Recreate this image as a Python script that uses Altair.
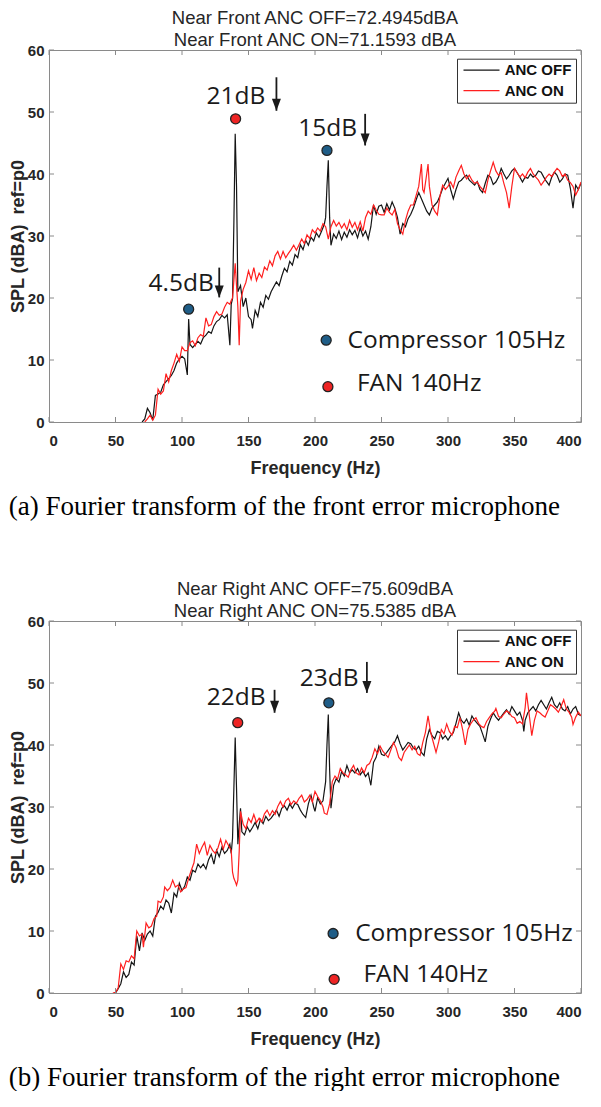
import altair as alt
import pandas as pd

# ---------------- data ----------------
XTICKS = [0, 50, 100, 150, 200, 250, 300, 350, 400]
YTICKS = [0, 10, 20, 30, 40, 50, 60]
SERIES = ["ANC OFF", "ANC ON"]
SERIES_COLORS = ["#151515", "#ff1f1f"]

# Panel (a) - front error microphone
a_off_f = [70, 72, 74, 76, 78, 80, 82, 84, 86, 88,
           90, 92, 94, 96, 98, 100, 102, 104, 105, 106,
           108, 110, 112, 114, 116, 118, 120, 122, 124, 126,
           128, 130, 132, 134, 136, 137, 138, 139, 140, 141,
           142, 144, 146, 148, 150, 152, 153, 155, 157, 159,
           161, 163, 165, 167, 169, 171, 173, 175, 177, 179,
           181, 183, 185, 187, 189, 191, 193, 195, 197, 199,
           201, 203, 205, 207, 208, 209, 210, 211, 212, 214,
           216, 218, 220, 222, 224, 226, 228, 230, 232, 234,
           236, 238, 240, 242, 244, 246, 248, 250, 252, 254,
           256, 258, 260, 262, 264, 266, 268, 270, 272, 274,
           276, 278, 280, 282, 284, 286, 288, 290, 292, 294,
           296, 298, 300, 302, 304, 306, 308, 310, 312, 314,
           316, 318, 320, 322, 324, 326, 328, 330, 332, 334,
           336, 338, 340, 342, 344, 346, 348, 350, 352, 354,
           356, 358, 360, 362, 364, 366, 368, 370, 372, 374,
           376, 378, 380, 382, 384, 386, 388, 390, 392, 394,
           396, 398, 400]
a_off_v = [0, 0.5, 2.2, 1.5, 0.3, 4.3, 4.5, 4.8, 6, 6.5,
           7, 7.5, 8.3, 9.5, 10.2, 10.6, 10.2, 7.6, 16.6, 12.5,
           12, 12.5, 13, 12.6, 13.6, 14, 14.6, 14.3, 15.5, 16.2,
           16.5, 17.2, 16.8, 17.3, 12.4, 19, 19.9, 32, 46.5, 38,
           21, 22, 18.6, 20, 17, 16.5, 15.1, 18, 17, 19.3,
           18.5, 20.4, 19.8, 21, 21.8, 22.6, 22, 23.5, 24.8, 24.2,
           25.9, 25.3, 27, 26.5, 28.6, 27.8, 29.3, 28.5, 29.8, 29.2,
           30.5, 29.8, 30.8, 31.9, 33, 38, 42.2, 33, 28.5, 30.3,
           29.6, 30.8, 29.4, 30.6, 29.8, 31, 30.2, 30.9, 29.7, 31.3,
           30, 30.8, 29.5, 31.5, 35, 33.5, 34.8, 35, 33.8, 35.2,
           34.2, 35.5, 34.5, 33, 30.3, 32, 31.5, 32.8, 33.5, 34.5,
           35.8, 37, 36, 35, 34, 33.4, 34.5, 35, 35.5, 36.5,
           37.7, 38.5, 39.3, 37.5, 36, 37.5, 38.7, 39, 39.5, 39.8,
           39, 38.6, 38.2, 38.8, 37.5, 37, 38.5, 39.8, 39.5, 38.3,
           38.7, 39.5, 40.9, 40, 39.2, 39.8, 40.5, 40.9, 40.2, 39.5,
           38.7, 39.5, 39.3, 40, 39.5, 39.8, 40.5, 40.3, 39.5, 38.8,
           38.2, 39.5, 40.3, 39.8, 38.7, 39.2, 40, 39.8, 37.7, 34.5,
           38.2, 37.5, 38.5]
a_on_f = [72, 74, 76, 78, 80, 82, 84, 86, 88, 90,
          92, 94, 96, 98, 100, 102, 104, 106, 108, 110,
          112, 114, 116, 118, 120, 122, 124, 126, 128, 130,
          132, 134, 136, 137, 138, 139, 140, 141, 142, 143,
          144, 146, 148, 150, 152, 154, 156, 158, 160, 162,
          164, 166, 168, 170, 172, 174, 176, 178, 180, 182,
          184, 186, 188, 190, 192, 194, 196, 198, 200, 202,
          204, 206, 208, 210, 212, 214, 216, 218, 220, 222,
          224, 226, 228, 230, 232, 234, 236, 238, 240, 242,
          244, 246, 248, 250, 252, 254, 256, 258, 260, 262,
          264, 266, 268, 270, 272, 274, 276, 278, 280, 281,
          282, 284, 285, 286, 288, 290, 292, 294, 296, 298,
          300, 302, 304, 306, 308, 310, 312, 314, 316, 318,
          320, 322, 324, 326, 328, 330, 332, 334, 336, 338,
          340, 342, 344, 346, 348, 350, 352, 354, 356, 358,
          360, 362, 364, 366, 368, 370, 372, 374, 376, 378,
          380, 382, 384, 386, 388, 390, 392, 394, 396, 398,
          400]
a_on_v = [0, 0.5, 1.1, 0.3, 1.1, 5.3, 4.5, 5, 7.8, 6.5,
          8.3, 9.5, 10.9, 9.8, 12.1, 11.5, 11.5, 12.8, 13.1, 12.3,
          13.6, 14.1, 13.8, 16.8, 15.5, 15.7, 17, 17.8, 17.2, 17.4,
          18.5, 19.3, 19, 19.6, 20, 22.8, 25.6, 22, 18.6, 12.4,
          19.5, 21.4, 22.5, 24.4, 23, 24.9, 22.8, 24, 23.3, 25,
          24.5, 26, 25.2, 26.8, 27.5, 26.3, 27.5, 26.5, 27.2, 27.8,
          28.5, 27.7, 28.6, 29.5, 28.8, 30.2, 29.6, 31, 30.5, 31.3,
          30.8, 32, 31.5, 29.5, 31.5, 32.5, 31.6, 32.2, 31.3, 32,
          31, 32.5, 31.4, 32.2, 31, 32.3, 30.8, 33, 34, 33.5,
          35, 34.2, 33.5, 33.4, 33.4, 34.5, 33.8, 33.4, 34.3, 32,
          31, 30.3, 32.5, 34, 35, 35, 36.5, 38, 41.6, 37.5,
          37, 40, 41.6, 38, 35, 34, 33.4, 36.5, 38.2, 37.5,
          38, 38.7, 37.8, 39.5, 40.5, 41.4, 40, 39.2, 39.8, 39,
          38.5, 38.7, 38, 37.5, 37, 39, 40.5, 41.9, 40.5, 39.8,
          40.2, 38.5, 37, 34.5, 38, 40.9, 40.2, 39.5, 40, 39.4,
          40.3, 40.9, 40, 39.5, 39, 38.2, 38.8, 39.5, 40, 39.6,
          40.3, 40.9, 40.5, 39.6, 40, 39, 38.6, 38, 36.6, 37.5,
          38.7]

# Panel (b) - right error microphone
b_off_f = [50, 52, 54, 56, 58, 60, 62, 64, 66, 68,
           70, 72, 74, 76, 78, 80, 82, 84, 86, 88,
           90, 92, 94, 96, 98, 100, 102, 104, 106, 108,
           110, 112, 114, 116, 118, 120, 122, 124, 126, 128,
           130, 132, 134, 136, 137, 138, 139, 140, 141, 142,
           143, 144, 145, 147, 149, 151, 153, 155, 157, 159,
           161, 163, 165, 167, 169, 171, 173, 175, 177, 179,
           181, 183, 185, 187, 189, 191, 193, 195, 197, 199,
           200, 202, 204, 206, 208, 209, 210, 211, 212, 214,
           216, 218, 220, 222, 224, 226, 228, 230, 232, 234,
           236, 238, 240, 242, 244, 246, 248, 250, 252, 254,
           256, 258, 260, 262, 264, 266, 268, 270, 272, 274,
           276, 278, 280, 282, 284, 286, 288, 290, 292, 294,
           296, 298, 300, 302, 304, 306, 308, 310, 312, 314,
           316, 318, 320, 322, 324, 326, 328, 330, 332, 334,
           336, 338, 340, 342, 344, 346, 348, 350, 352, 354,
           356, 357, 358, 360, 362, 364, 366, 368, 370, 372,
           374, 376, 378, 380, 382, 384, 386, 388, 390, 392,
           394, 396, 398, 400]
b_off_v = [0, 0.7, 1.5, 3.4, 2.5, 3, 5, 4.5, 9.2, 6.8,
           9.7, 8.5, 9.5, 10, 9.2, 12.4, 13, 14, 13.5, 15,
           14.5, 12.9, 16.1, 15.5, 17.7, 16.5, 17.2, 18.7, 18.2, 19.8,
           19.5, 20.8, 20.2, 20.8, 20, 21.5, 22.4, 20.8, 23, 22,
           23.5, 22.5, 23, 24, 22.5, 25, 33, 41.2, 33, 24,
           27.2, 29.8, 26, 25.5, 26.8, 26, 26.7, 27.5, 26.5, 28,
           27.3, 28.5, 27.8, 28.2, 28.8, 29.5, 28.5, 29.8, 30.2, 29.5,
           30.5, 29.8, 30.6, 30.4, 29.5, 28.8, 28.3, 30.5, 31.9, 30,
           29.3, 31.5, 30.5, 31, 34.1, 40, 44.9, 36, 29.8, 33.5,
           34.6, 34, 35.7, 35, 36.7, 35.5, 36, 35.5, 36.2, 35.2,
           35.8, 34.9, 35.5, 33.5, 37.2, 38, 39.8, 38.5, 38.3, 38.8,
           39.4, 40, 40.5, 41.5, 40.2, 39.2, 39.8, 40.4, 40.2, 39.5,
           39.2, 39.8, 38.8, 38.3, 41, 42.5, 41.5, 41, 42.2, 42,
           41, 41.5, 40.8, 41.5, 42, 43.5, 45.2, 44, 43.5, 44.2,
           43.2, 44.7, 44, 43.5, 43, 41.8, 40.5, 43, 44.2, 45.2,
           44.5, 44, 44.6, 45.2, 45.7, 45, 46.2, 45.5, 44.8, 45.3,
           44, 42.2, 44, 45.2, 45.7, 46.2, 45.5, 46.5, 47.2, 46.5,
           45.8, 46.8, 47.7, 46.5, 46, 46.8, 45.8, 45.5, 46.2, 45,
           45.8, 46.2, 45, 44.7]
b_on_f = [48, 50, 52, 54, 56, 58, 60, 62, 64, 66,
          68, 70, 71, 73, 75, 77, 79, 81, 82, 84,
          86, 87, 89, 91, 93, 95, 97, 99, 101, 103,
          105, 107, 109, 111, 113, 115, 117, 119, 121, 123,
          125, 127, 129, 131, 133, 135, 137, 138, 139, 140,
          141, 142, 143, 144, 146, 148, 150, 152, 154, 156,
          158, 160, 162, 164, 166, 168, 170, 172, 174, 176,
          178, 180, 182, 184, 186, 188, 190, 192, 194, 196,
          198, 200, 202, 204, 206, 207, 209, 211, 213, 215,
          217, 219, 221, 223, 225, 227, 229, 231, 233, 235,
          237, 239, 241, 243, 245, 247, 249, 251, 253, 255,
          257, 259, 261, 263, 265, 267, 269, 271, 273, 275,
          277, 279, 281, 283, 285, 287, 289, 291, 293, 295,
          297, 299, 301, 303, 305, 307, 309, 311, 313, 315,
          317, 319, 321, 323, 325, 327, 329, 331, 333, 335,
          336, 338, 340, 342, 344, 346, 348, 350, 352, 354,
          356, 358, 359, 361, 363, 365, 367, 369, 371, 373,
          375, 377, 379, 381, 383, 385, 387, 389, 391, 393,
          394, 396, 398, 400]
b_on_v = [0, 0.1, 0.8, 4.7, 3.8, 5.2, 5, 6, 5.5, 10,
          9.2, 9.5, 7.4, 11.3, 10.5, 10.8, 12, 12.4, 14.8, 14.6,
          15.5, 17.1, 16.5, 17, 18.2, 17.1, 17.4, 16.3, 16.8, 17,
          18.5, 19.8, 21, 24, 22.5, 23.5, 24.3, 22.2, 23.8, 23,
          22.5, 23.4, 24.8, 23.2, 24.6, 23.8, 23, 19.5, 18.5, 18,
          17.4, 18.2, 22.8, 29.3, 27.2, 26.5, 28.2, 27.5, 28.8, 27.5,
          28.2, 27.6, 28.9, 29.5, 28.6, 29.4, 28.8, 30.1, 30.9, 30,
          31, 31.4, 30.4, 31, 30.6, 31.4, 31.9, 30.8, 31.2, 31.9,
          30.8, 32.5, 31.7, 31, 30, 29, 28.8, 30.5, 34.1, 35,
          34.5, 36.2, 35.5, 35.2, 34.8, 36, 36.7, 35.5, 35.2, 36.3,
          35.5, 36.7, 37, 38, 39.4, 38.6, 39.8, 39, 38.5, 38,
          39.2, 40.4, 39.5, 38, 37.5, 38.8, 39.4, 40, 39.2, 39.8,
          38.6, 38.3, 40.4, 42, 44.7, 42, 40.4, 38.8, 40.5, 42.5,
          41.8, 43.4, 42.2, 41.6, 43, 42.8, 44.4, 42.5, 40, 42.5,
          43.4, 44, 44.4, 43.5, 43, 42.8, 43.8, 44.4, 45, 45.4,
          45.9, 44.6, 44.4, 45, 45.5, 45.2, 44.6, 44.4, 43.5, 43.8,
          43.4, 46, 48.4, 45, 41.5, 44, 45.5, 45.2, 44.8, 44.5,
          45.5, 46.5, 46.2, 45.8, 45.3, 46.2, 47.3, 45.8, 45.3, 44.5,
          43.3, 44.5, 45.3, 44.7]

# annotations: peak labels (text centre), arrows, marker dots, key texts
a_lab_text = ["4.5dB", "21dB", "15dB"]
a_lab_f = [99.4, 140.5, 209.6]
a_lab_v = [22.2, 52.4, 47.3]
a_arr_f = [128, 171, 237.7]
a_arr_top = [24.9, 55.6, 49.7]
a_arr_tip = [20.1, 50.2, 44.6]
a_dot_f = [105, 140.3, 209, 208.4, 209.7]
a_dot_v = [18.2, 48.9, 43.8, 13.2, 5.7]
a_dot_c = ["#1f5d87", "#ee2424", "#1f5d87", "#1f5d87", "#ee2424"]
a_key_text = ["Compressor 105Hz", "FAN 140Hz"]
a_key_f = [224.5, 231.5]
a_key_v = [13.0, 6.1]

b_lab_text = ["22dB", "23dB"]
b_lab_f = [140.7, 210.6]
b_lab_v = [47.6, 50.7]
b_arr_f = [169.6, 239]
b_arr_top = [48.9, 53.4]
b_arr_tip = [45.2, 48.4]
b_dot_f = [141.9, 210.4, 213.6, 214.4]
b_dot_v = [43.6, 46.8, 9.6, 2.2]
b_dot_c = ["#ee2424", "#1f5d87", "#1f5d87", "#ee2424"]
b_key_text = ["Compressor 105Hz", "FAN 140Hz"]
b_key_f = [230.2, 236.4]
b_key_v = [9.5, 2.9]

TITLE_A = ["Near Front ANC OFF=72.4945dBA", "Near Front ANC ON=71.1593 dBA"]
TITLE_B = ["Near Right ANC OFF=75.609dBA", "Near Right ANC ON=75.5385 dBA"]
CAP_A = "(a) Fourier transform of the front error microphone"
CAP_B = "(b) Fourier transform of the right error microphone"

# ---------------- chart ----------------
W, H = 532, 372
FRAME = "#8a8a8a"
INK = "#1a1a1a"


def panel(off_f, off_v, on_f, on_v, lab, arr, dots, keys, title_lines):
    lines_df = pd.DataFrame(
        [{"f": f, "v": v, "s": SERIES[0]} for f, v in zip(off_f, off_v)]
        + [{"f": f, "v": v, "s": SERIES[1]} for f, v in zip(on_f, on_v)]
    )
    x = alt.X("f:Q", scale=alt.Scale(domain=[0, 400], nice=False, zero=False),
              axis=alt.Axis(values=XTICKS, title="Frequency (Hz)", format="d"))
    y = alt.Y("v:Q", scale=alt.Scale(domain=[0, 60], nice=False, zero=False),
              axis=alt.Axis(values=YTICKS, title="SPL (dBA)\u00a0 ref=p0", format="d"))

    lines = alt.Chart(lines_df).mark_line(clip=True, strokeWidth=1.2).encode(
        x=x, y=y,
        color=alt.Color("s:N", scale=alt.Scale(domain=SERIES, range=SERIES_COLORS),
                        legend=alt.Legend(
                            orient="none", legendX=408, legendY=8.7, title=None,
                            symbolType="M-1,0H6.2", symbolSize=100, symbolStrokeWidth=1.2,
                            labelFont="Liberation Sans", labelFontWeight="bold",
                            labelFontSize=15, labelColor="#111111", labelOffset=28.7,
                            padding=4, rowPadding=4.4, fillColor="white",
                            strokeColor="#333333")),
        order=alt.Order("f:Q"),
    )

    xt = pd.DataFrame({"f": XTICKS})
    yt = pd.DataFrame({"v": YTICKS})
    tick_top = alt.Chart(xt).mark_rule(color=FRAME).encode(x=x, y=alt.value(0), y2=alt.value(5))
    tick_bot = alt.Chart(xt).mark_rule(color=FRAME).encode(x=x, y=alt.value(H), y2=alt.value(H - 5))
    tick_lft = alt.Chart(yt).mark_rule(color=FRAME).encode(y=y, x=alt.value(0), x2=alt.value(5))
    tick_rgt = alt.Chart(yt).mark_rule(color=FRAME).encode(y=y, x=alt.value(W), x2=alt.value(W - 5))

    lab_df = pd.DataFrame({"f": lab[0], "v": lab[1], "t": lab[2]})
    labels = alt.Chart(lab_df).mark_text(font="Open Sans", fontSize=24.5, color=INK,
                                          align="center", baseline="middle").encode(
        x=x, y=y, text="t:N")

    arr_df = pd.DataFrame({"f": arr[0], "v": arr[1], "v2": arr[2]})
    shafts = alt.Chart(arr_df).mark_rule(color=INK, strokeWidth=1.8).encode(
        x=x, y=y, y2="v2:Q")
    head_df = pd.DataFrame({"f": arr[0], "v": arr[2]})
    heads = alt.Chart(head_df).mark_point(shape="M-0.9,-1.2L0.9,-1.2L0,1.2Z", filled=True,
                                          size=100, color=INK, opacity=1, yOffset=-6).encode(
        x=x, y=y)

    dot_df = pd.DataFrame({"f": dots[0], "v": dots[1], "c": dots[2]})
    dotm = alt.Chart(dot_df).mark_point(shape="circle", filled=True, size=100, opacity=1,
                                        stroke="#222222", strokeWidth=1.3).encode(
        x=x, y=y, fill=alt.Fill("c:N", scale=None))

    key_df = pd.DataFrame({"f": keys[0], "v": keys[1], "t": keys[2]})
    keym = alt.Chart(key_df).mark_text(font="Open Sans", fontSize=24.5, color=INK,
                                        align="left", baseline="middle").encode(
        x=x, y=y, text="t:N")

    return alt.layer(lines, tick_top, tick_bot, tick_lft, tick_rgt, shafts, heads,
                     dotm, labels, keym).properties(
        width=W, height=H,
        title=alt.Title(title_lines, fontSize=18.5, font="Liberation Sans",
                        fontWeight="normal", color="#262626", lineHeight=22,
                        anchor="middle", frame="group", offset=-6))


pa = panel(a_off_f, a_off_v, a_on_f, a_on_v,
           (a_lab_f, a_lab_v, a_lab_text), (a_arr_f, a_arr_top, a_arr_tip),
           (a_dot_f, a_dot_v, a_dot_c), (a_key_f, a_key_v, a_key_text), TITLE_A)
pb = panel(b_off_f, b_off_v, b_on_f, b_on_v,
           (b_lab_f, b_lab_v, b_lab_text), (b_arr_f, b_arr_top, b_arr_tip),
           (b_dot_f, b_dot_v, b_dot_c), (b_key_f, b_key_v, b_key_text), TITLE_B)


def captioned(p, cap):
    return alt.vconcat(p).properties(
        title=alt.Title(cap, orient="bottom", anchor="start", font="Liberation Serif",
                        fontSize=27, fontWeight="normal", color="#000000", offset=16)
    ).resolve_scale(color="independent").resolve_legend(color="independent")


chart = alt.vconcat(captioned(pa, CAP_A), captioned(pb, CAP_B), spacing=59).properties(
    padding=0
).resolve_scale(color="independent").resolve_legend(color="independent").configure_view(
    stroke=FRAME, strokeWidth=1
).configure_axis(
    domain=False, grid=False, ticks=False, tickSize=0,
    labelFont="Liberation Sans", labelFontWeight="bold", labelFontSize=15,
    labelColor="#262626", titleFont="Liberation Sans", titleFontWeight="bold",
    titleFontSize=18, titleColor="#262626"
).configure_axisX(
    labelPadding=11, titlePadding=11
).configure_axisY(
    labelPadding=5, titlePadding=0
)

chart.save("out.html", embed_options={"renderer": "svg", "actions": False})
